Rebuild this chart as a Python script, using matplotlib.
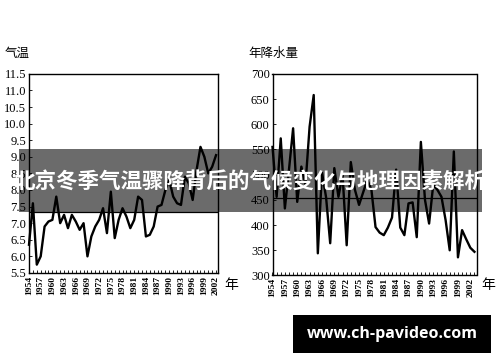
#!/usr/bin/python
# Beijing winter temperature / annual precipitation, 1954-2003
import numpy as np
import matplotlib
matplotlib.use('Agg')
import matplotlib.pyplot as plt
from matplotlib.patches import Rectangle
from matplotlib.ticker import MultipleLocator

plt.rcParams['font.family'] = ['Liberation Serif', 'Noto Sans CJK SC']

#================= data =======================================
years_t = list(range(1954, 2003))
temp = [6.35, 7.6, 5.75, 6.0, 6.9, 7.05, 7.1, 7.8, 7.0, 7.25,
        6.85, 7.25, 7.05, 6.8, 7.0, 6.0, 6.6, 6.9, 7.1, 7.45,
        6.7, 7.95, 6.55, 7.1, 7.45, 7.2, 6.85, 7.1, 7.8, 7.7,
        6.6, 6.65, 6.9, 7.5, 7.55, 8.0, 8.3, 7.8, 7.6, 7.55,
        8.4, 8.2, 7.7, 8.6, 9.3, 9.0, 8.5, 8.7, 9.05]
temp_mean = 7.35

years_p = list(range(1954, 2004))
precip = [555, 456, 572, 433, 510, 592, 446, 516, 480, 595,
          658, 344, 505, 455, 364, 513, 456, 500, 360, 525,
          470, 440, 465, 490, 470, 396, 385, 380, 395, 415,
          510, 395, 380, 443, 445, 376, 565, 450, 403, 480,
          470, 456, 410, 350, 546, 336, 390, 372, 355, 347]
precip_mean = 453

year_ticks = list(range(1954, 2003, 3))
banner_text = '北京冬季气温骤降背后的气候变化与地理因素解析'
site_text = 'www.ch-pavideo.com'

#====================== Draw Figure ======================
fig = plt.figure(figsize=(5.0, 3.62), dpi=100)
ax1 = fig.add_axes([0.058, 0.246, 0.378, 0.550])
ax2 = fig.add_axes([0.545, 0.239, 0.408, 0.557])

def style_axis(ax, xlim, ylim, ystep, fmt):
    ax.set_xlim(xlim)
    ax.set_ylim(ylim)
    ax.yaxis.set_major_locator(MultipleLocator(ystep))
    ax.yaxis.set_major_formatter(plt.FormatStrFormatter(fmt))
    ax.set_xticks(year_ticks)
    ax.set_xticklabels([str(y) for y in year_ticks], rotation=90,
                       fontsize=6.8, fontweight='bold')
    ax.xaxis.set_minor_locator(MultipleLocator(1))
    ax.tick_params(axis='x', which='both', direction='in', length=2,
                   width=0.6, pad=2)
    ax.tick_params(axis='y', direction='in', length=2, width=0.6,
                   labelsize=9, pad=2)
    for s in ax.spines.values():
        s.set_linewidth(1.0)

ax1.plot(years_t, temp, color='black', linewidth=1.7, clip_on=False)
ax1.axhline(temp_mean, color='black', linewidth=0.9)
style_axis(ax1, (1954, 2002.5), (5.5, 11.5), 0.5, '%.1f')

ax2.plot(years_p, precip, color='black', linewidth=1.7, clip_on=False)
ax2.axhline(precip_mean, color='black', linewidth=0.9)
style_axis(ax2, (1954, 2003.5), (300, 700), 50, '%d')

cjk = ['Noto Sans CJK SC', 'DejaVu Sans']
fig.text(0.010, 0.835, '气温', fontsize=9, family=cjk, va='bottom')
fig.text(0.496, 0.835, '年降水量', fontsize=9, family=cjk, va='bottom')
fig.text(0.448, 0.213, '年', fontsize=10, family=cjk, va='center')
fig.text(0.963, 0.213, '年', fontsize=10, family=cjk, va='center')

# overlay banner
fig.patches.append(Rectangle((0.038, 0.414), 0.926, 0.174, transform=fig.transFigure,
                             facecolor='black', alpha=0.58, edgecolor='none', zorder=5))
fig.text(0.5, 0.500, banner_text, fontsize=15.5, fontweight='bold', color='white',
         family=cjk, ha='center', va='center', zorder=6)

# site box
fig.patches.append(Rectangle((0.586, 0.025), 0.396, 0.105, transform=fig.transFigure,
                             facecolor='black', edgecolor='none', zorder=5))
fig.text(0.784, 0.078, site_text, fontsize=11.5, fontweight='bold', color='white',
         family=['Open Sans', 'DejaVu Sans'], ha='center', va='center', zorder=6)

fig.savefig('out.png', dpi=100)
